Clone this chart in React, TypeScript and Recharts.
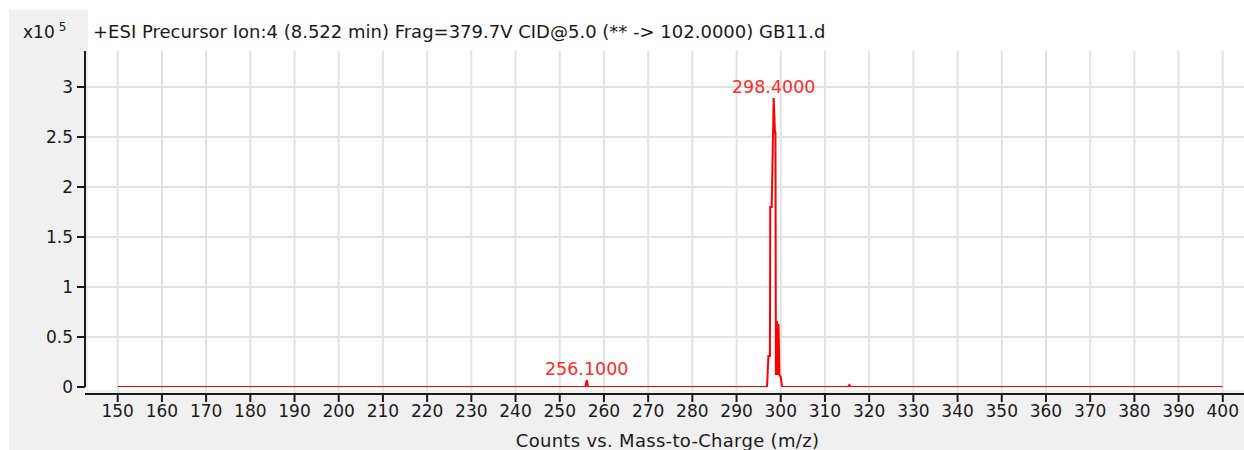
import { LineChart, Line, XAxis, YAxis, CartesianGrid, ReferenceLine, ReferenceDot } from 'recharts'

// m/z positions of the profile points and their counts (x10^5)
const mzValues = [
  150, 255.8, 256.1, 256.4, 296.9, 297.2, 297.55, 297.62, 297.95, 298.4, 298.7, 298.8,
  298.9, 299.15, 299.3, 299.5, 299.7, 300.0, 300.3, 315.2, 315.5, 315.8, 400,
]
const counts = [
  0, 0, 0.068, 0, 0, 0.31, 0.31, 1.8, 1.8, 2.89, 2.54, 2.54,
  0.12, 0.66, 0.12, 0.63, 0.12, 0.1, 0, 0, 0.02, 0, 0,
]

// labelled peaks
const peakMz = [256.1, 298.4]
const peakCounts = [0.068, 2.89]
const peakLabels = ['256.1000', '298.4000']

const xTicks = [
  150, 160, 170, 180, 190, 200, 210, 220, 230, 240, 250, 260, 270, 280, 290, 300,
  310, 320, 330, 340, 350, 360, 370, 380, 390, 400,
]
const yTicks = [0, 0.5, 1, 1.5, 2, 2.5, 3]

const titleText = '+ESI Precursor Ion:4 (8.522 min) Frag=379.7V CID@5.0 (** -> 102.0000) GB11.d'
const xTitle = 'Counts vs. Mass-to-Charge (m/z)'

const X_MIN = 142.6
const X_MAX = 404.8
const Y_MAX = 3.36

const FONT = '"DejaVu Sans", Verdana, sans-serif'
const FS = 17
const RED = '#ff0000'
const LABEL_RED = '#ff2a2a'
const INK = '#1a1a1a'

const data = mzValues.map((mz, i) => ({ mz, counts: counts[i] }))

export default function App() {
  return (
    <div style={{ position: 'absolute', left: 0, top: 0, width: 1244, height: 450, background: '#fff', fontFamily: FONT, overflow: 'hidden' }}>
      <div style={{ position: 'absolute', left: 9, top: 10, width: 1235, height: 440, background: '#f0f0f0' }} />
      <div style={{ position: 'absolute', left: 88, top: 10, width: 1156, height: 380, background: '#fff' }} />

      <div style={{ position: 'absolute', left: 23, top: 22, fontSize: FS, color: INK, whiteSpace: 'nowrap' }}>
        x10<span style={{ fontSize: 12, position: 'relative', top: -7, marginLeft: 4 }}>5</span>
      </div>
      <div style={{ position: 'absolute', left: 93, top: 21, fontSize: 18, color: INK, whiteSpace: 'nowrap' }}>
        {titleText}
      </div>

      <div style={{ position: 'absolute', left: 0, top: 0 }}>
        <LineChart width={1244} height={450} data={data} margin={{ top: 51, right: 0, bottom: 0, left: 0 }}>
          <CartesianGrid
            stroke="#e2e2e2"
            strokeWidth={2}
            verticalValues={xTicks}
            horizontalValues={yTicks.filter((t) => t > 0)}
          />
          <XAxis
            dataKey="mz"
            type="number"
            domain={[X_MIN, X_MAX]}
            ticks={xTicks}
            interval={0}
            allowDataOverflow
            height={56}
            tickSize={8}
            tickMargin={3}
            axisLine={{ stroke: INK, strokeWidth: 2 }}
            tickLine={{ stroke: INK, strokeWidth: 2 }}
            tick={{ fill: INK, fontSize: FS, fontFamily: FONT }}
            label={{ value: xTitle, position: 'insideBottom', offset: 3, dx: 3, fill: INK, fontSize: 18, letterSpacing: 0.3, fontFamily: FONT }}
          />
          <YAxis
            type="number"
            domain={[0, Y_MAX]}
            ticks={yTicks}
            interval={0}
            allowDataOverflow
            width={85}
            padding={{ top: 0, bottom: 7 }}
            tickSize={8}
            tickMargin={4}
            axisLine={false}
            tickLine={{ stroke: INK, strokeWidth: 2 }}
            tick={{ fill: INK, fontSize: FS, fontFamily: FONT }}
          />
          <ReferenceLine
            segment={[{ x: X_MIN, y: 0 }, { x: X_MIN, y: Y_MAX }]}
            stroke={INK}
            strokeWidth={2}
            ifOverflow="visible"
          />
          <Line
            dataKey="counts"
            type="linear"
            stroke={RED}
            strokeWidth={2}
            dot={false}
            activeDot={false}
            isAnimationActive={false}
          />
          {peakMz.map((mz, i) => (
            <ReferenceDot
              key={peakLabels[i]}
              x={mz}
              y={peakCounts[i]}
              r={0}
              stroke="none"
              ifOverflow="visible"
              label={{ value: peakLabels[i], position: 'top', offset: 5, fill: LABEL_RED, fontSize: 17.5, fontFamily: FONT }}
            />
          ))}
        </LineChart>
      </div>
    </div>
  )
}
